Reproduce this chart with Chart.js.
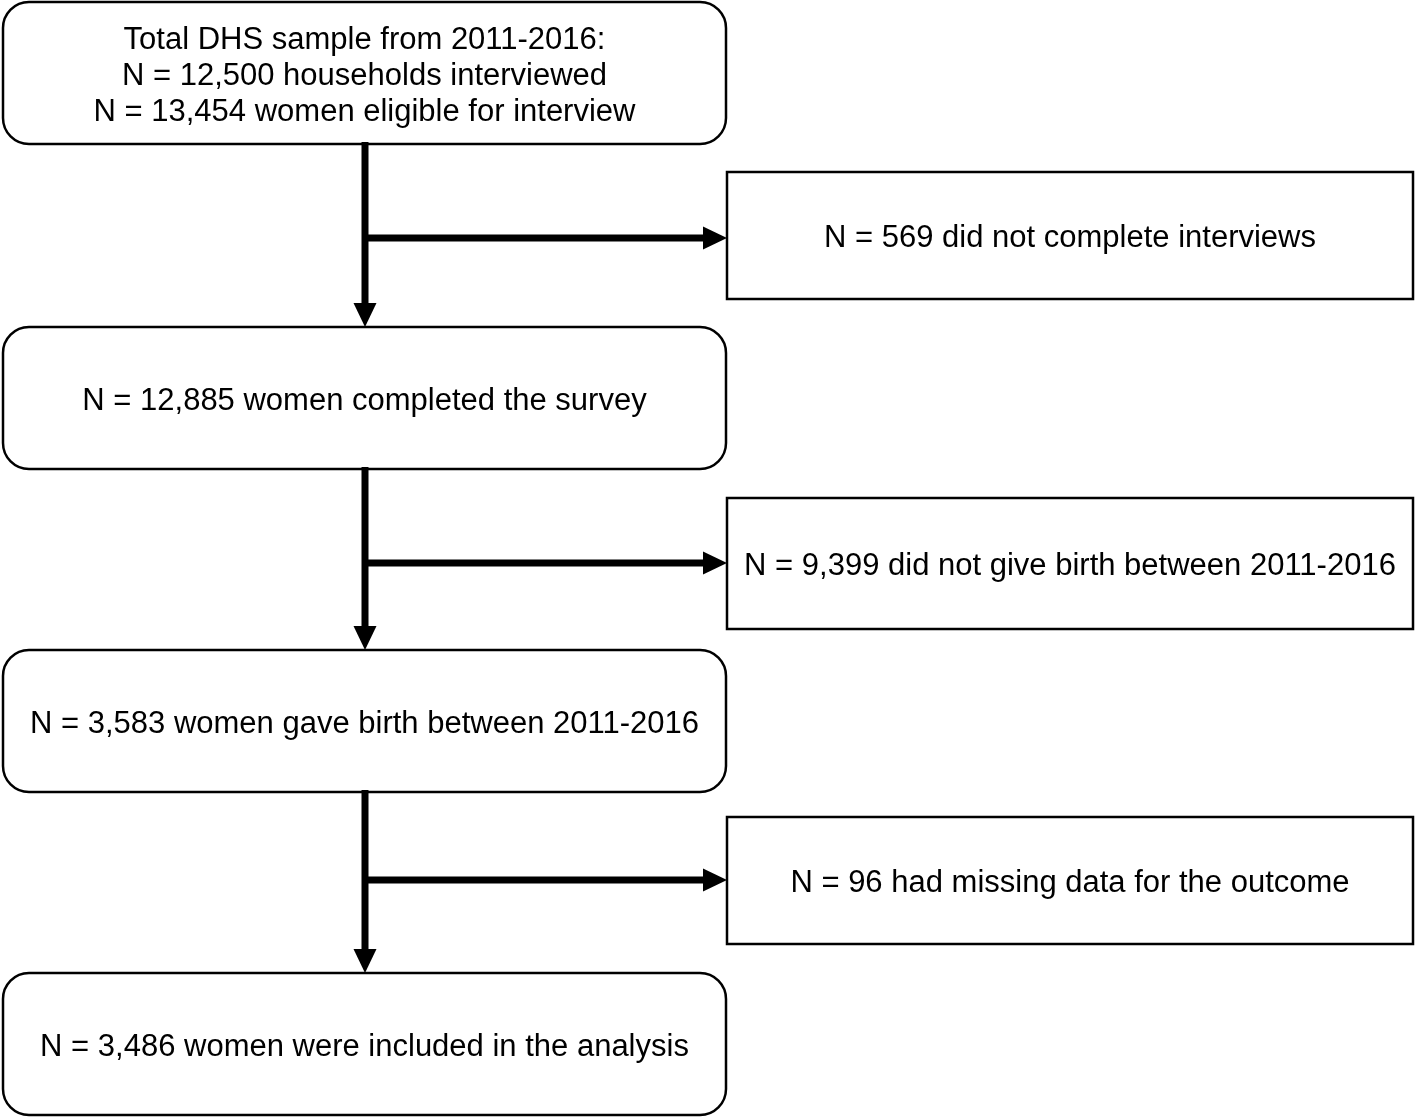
<!DOCTYPE html>
<html>
<head>
<meta charset="utf-8">
<script src="https://cdn.jsdelivr.net/npm/chart.js@4.4.0/dist/chart.umd.min.js"></script>
<style>
  html, body { margin: 0; padding: 0; background: #fff; }
  #wrap { width: 1416px; height: 1120px; }
</style>
</head>
<body>
<div id="wrap"><canvas id="flow" width="1416" height="1120"></canvas></div>
<script>
// Flow of the sample (steps down the left, exclusions on the right)
const steps = [
  ['Total DHS sample from 2011-2016:', 'N = 12,500 households interviewed', 'N = 13,454 women eligible for interview'],
  ['N = 12,885 women completed the survey'],
  ['N = 3,583 women gave birth between 2011-2016'],
  ['N = 3,486 women were included in the analysis']
];
const exclusions = [
  'N = 569 did not complete interviews',
  'N = 9,399 did not give birth between 2011-2016',
  'N = 96 had missing data for the outcome'
];

// layout in canvas units (x 0..1416, y 0..1120 downwards)
const mainBox = { left: 3, right: 726, tops: [2, 327, 650, 973], h: 142, r: 26 };
const sideBox = { left: 727, right: 1413, tops: [172, 498, 817], bottoms: [299, 629, 944] };
const trunkX = 365;
const branchY = [238, 563, 880];

const font = "31px 'Liberation Sans', Arial, Helvetica, sans-serif";

function roundRect(ctx, x0, y0, x1, y1, r) {
  ctx.beginPath();
  ctx.moveTo(x0 + r, y0);
  ctx.lineTo(x1 - r, y0);
  ctx.arcTo(x1, y0, x1, y0 + r, r);
  ctx.lineTo(x1, y1 - r);
  ctx.arcTo(x1, y1, x1 - r, y1, r);
  ctx.lineTo(x0 + r, y1);
  ctx.arcTo(x0, y1, x0, y1 - r, r);
  ctx.lineTo(x0, y0 + r);
  ctx.arcTo(x0, y0, x0 + r, y0, r);
  ctx.closePath();
  ctx.stroke();
}

function arrow(ctx, x0, y0, x1, y1) {
  const len = Math.hypot(x1 - x0, y1 - y0);
  const ux = (x1 - x0) / len, uy = (y1 - y0) / len;
  const head = 24, half = 11.5;
  ctx.lineWidth = 7;
  ctx.lineCap = 'butt';
  ctx.beginPath();
  ctx.moveTo(x0, y0);
  ctx.lineTo(x1 - ux * head, y1 - uy * head);
  ctx.stroke();
  ctx.beginPath();
  ctx.moveTo(x1, y1);
  ctx.lineTo(x1 - ux * head - uy * half, y1 - uy * head + ux * half);
  ctx.lineTo(x1 - ux * head + uy * half, y1 - uy * head - ux * half);
  ctx.closePath();
  ctx.fill();
}

const flowPlugin = {
  id: 'flow',
  afterDraw(chart) {
    const ctx = chart.ctx;
    const sx = v => chart.scales.x.getPixelForValue(v);
    const sy = v => chart.scales.y.getPixelForValue(v);
    ctx.save();
    ctx.strokeStyle = '#000';
    ctx.fillStyle = '#000';

    // trunk arrows between step boxes, with branches to exclusions
    for (let i = 0; i < steps.length - 1; i++) {
      const yTop = mainBox.tops[i] + mainBox.h;
      const yBot = mainBox.tops[i + 1];
      arrow(ctx, sx(trunkX), sy(yTop - 3), sx(trunkX), sy(yBot));
      arrow(ctx, sx(trunkX), sy(branchY[i]), sx(sideBox.left), sy(branchY[i]));
    }

    ctx.lineWidth = 2.5;
    ctx.font = font;
    ctx.textAlign = 'center';
    ctx.textBaseline = 'middle';

    steps.forEach((lines, i) => {
      const y0 = mainBox.tops[i], y1 = y0 + mainBox.h;
      ctx.fillStyle = '#fff';
      ctx.fillRect(sx(mainBox.left) + 2, sy(y0) + 2, sx(mainBox.right) - sx(mainBox.left) - 4, sy(y1) - sy(y0) - 4);
      roundRect(ctx, sx(mainBox.left), sy(y0), sx(mainBox.right), sy(y1), mainBox.r);
      ctx.fillStyle = '#000';
      const cx = (sx(mainBox.left) + sx(mainBox.right)) / 2;
      const cy = (sy(y0) + sy(y1)) / 2;
      const lh = 36;
      lines.forEach((t, j) => {
        ctx.fillText(t, cx, cy + (j - (lines.length - 1) / 2) * lh + 3);
      });
    });

    exclusions.forEach((t, i) => {
      const x0 = sx(sideBox.left), x1 = sx(sideBox.right);
      const y0 = sy(sideBox.tops[i]), y1 = sy(sideBox.bottoms[i]);
      ctx.strokeRect(x0, y0, x1 - x0, y1 - y0);
      ctx.fillText(t, (x0 + x1) / 2, (y0 + y1) / 2 + 3);
    });
    ctx.restore();
  }
};

new Chart(document.getElementById('flow'), {
  type: 'scatter',
  data: { datasets: [{ data: [] }] },
  options: {
    responsive: false,
    animation: false,
    layout: { padding: 0 },
    plugins: { legend: { display: false }, tooltip: { enabled: false } },
    scales: {
      x: { type: 'linear', min: 0, max: 1416, display: false },
      y: { type: 'linear', min: 0, max: 1120, reverse: true, display: false }
    }
  },
  plugins: [flowPlugin]
});
</script>
</body>
</html>
